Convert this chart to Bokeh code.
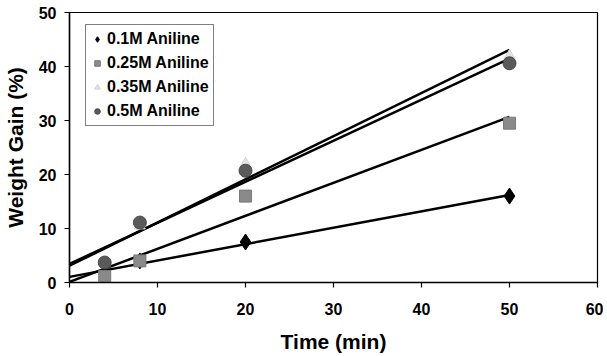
import numpy as np
from bokeh.plotting import figure
from bokeh.models import Legend, LegendItem, Range1d, FixedTicker
from bokeh.embed import file_html
from bokeh.resources import INLINE

time_min = [4, 8, 20, 50]
series_names = ["0.1M Aniline", "0.25M Aniline", "0.35M Aniline", "0.5M Aniline"]
gain_01 = [1.5, 4.0, 7.5, 16.0]
gain_025 = [1.1, 4.0, 16.0, 29.5]
gain_035 = [3.5, 10.5, 22.0, 42.0]
gain_05 = [3.7, 11.1, 20.7, 40.6]
x_ticks = [0, 10, 20, 30, 40, 50, 60]
y_ticks = [0, 10, 20, 30, 40, 50]

FONT = "Liberation Sans"

p = figure(frame_width=528, frame_height=270, output_backend="svg", toolbar_location=None,
           x_range=Range1d(0, 60), y_range=Range1d(0, 50),
           min_border_left=66, min_border_top=12, min_border_right=6, min_border_bottom=60)
p.background_fill_color = "white"
p.border_fill_color = "white"
p.outline_line_color = "black"
p.outline_line_width = 1.2
p.xgrid.visible = False
p.ygrid.visible = False

for ax, ticks, lab in ((p.xaxis, x_ticks, "Time (min)"), (p.yaxis, y_ticks, "Weight Gain (%)")):
    ax.ticker = FixedTicker(ticks=ticks)
    ax.minor_tick_line_color = None
    ax.major_tick_in = 0
    ax.major_tick_out = 5
    ax.axis_line_color = "black"
    ax.axis_line_width = 1.5
    ax.major_tick_line_color = "black"
    ax.major_tick_line_width = 1.2
    ax.major_label_text_font = FONT
    ax.major_label_text_font_style = "bold"
    ax.major_label_text_font_size = "16px"
    ax.major_label_text_color = "black"
    ax.axis_label = lab
    ax.axis_label_text_font = FONT
    ax.axis_label_text_font_style = "bold"
    ax.axis_label_text_color = "black"
    ax.axis_label_text_font_size = "21px"
p.xaxis.major_label_standoff = 15
p.yaxis.major_label_standoff = 8
p.xaxis.axis_label_standoff = 12
p.yaxis.axis_label_standoff = 9

styles = [
    (gain_01, "diamond", 16, "black", "black"),
    (gain_025, "square", 12, "#8a8a8a", "#7a7a7a"),
    (gain_035, "triangle", 11, "#e4e4e4", "#d0d0d0"),
    (gain_05, "circle", 13, "#5a5a5a", "#4a4a4a"),
]

items = []
xs = np.array(time_min, dtype=float)
line_x = np.array([0.0, 50.0])
for (ys, marker, size, fill, edge), name in zip(styles, series_names):
    slope, icpt = np.polyfit(xs, np.array(ys, dtype=float), 1)
    p.line(line_x, slope * line_x + icpt, line_color="black", line_width=2.5)
for (ys, marker, size, fill, edge), name in zip(styles, series_names):
    r = p.scatter(time_min, ys, marker=marker, size=size, fill_color=fill, line_color=edge)
    items.append(LegendItem(label=name, renderers=[r]))

legend = Legend(items=items, location=(16, 156))
legend.label_text_font = FONT
legend.label_text_font_style = "bold"
legend.label_text_font_size = "16px"
legend.label_text_color = "black"
legend.border_line_color = "black"
legend.border_line_width = 1
legend.padding = 4
legend.spacing = 4
legend.label_height = 20
legend.glyph_height = 20
legend.glyph_width = 14
legend.label_standoff = 3
legend.margin = 0
p.add_layout(legend, "center")

open("out.html", "w").write(file_html(p, INLINE))
